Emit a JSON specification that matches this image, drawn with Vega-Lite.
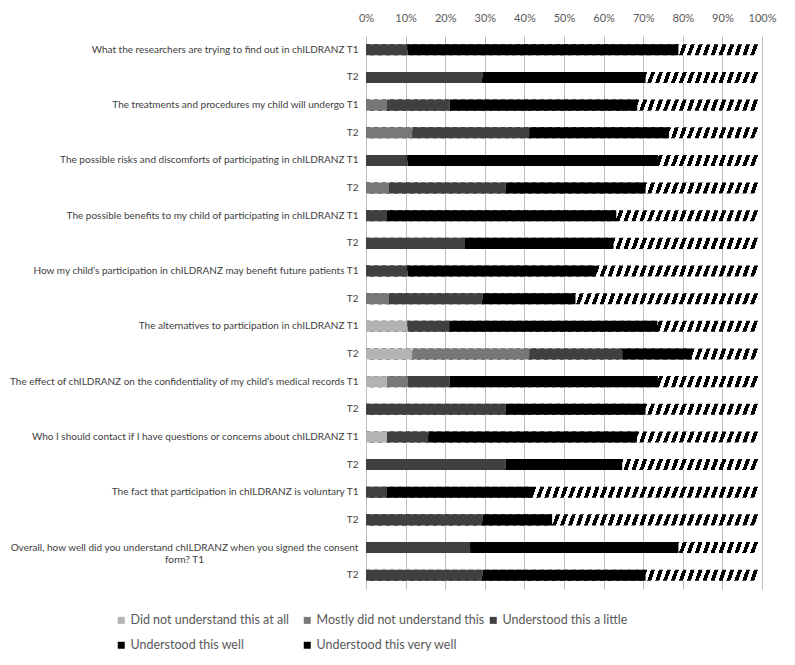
{
  "$schema": "https://vega.github.io/schema/vega-lite/v6.json",
  "width": 396,
  "height": 553,
  "autosize": "none",
  "padding": {"left": 366, "top": 36, "right": 33, "bottom": 76},
  "background": "white",
  "config": {
    "font": "Lato",
    "view": {"stroke": null},
    "axisX": {"labelOverlap": false, "labelFlush": false, "grid": true, "gridColor": "#bdbdbd", "gridOpacity": 1}
  },
  "data": {"values": [
    {"row": "What the researchers are trying to find out in chILDRANZ T1", "cat": "Understood this a little", "pct": 10.5},
    {"row": "What the researchers are trying to find out in chILDRANZ T1", "cat": "Understood this well", "pct": 68.4},
    {"row": "What the researchers are trying to find out in chILDRANZ T1", "cat": "Understood this very well", "pct": 21.1},
    {"row": "What the researchers are trying to find out in chILDRANZ T2", "cat": "Understood this a little", "pct": 29.4},
    {"row": "What the researchers are trying to find out in chILDRANZ T2", "cat": "Understood this well", "pct": 41.2},
    {"row": "What the researchers are trying to find out in chILDRANZ T2", "cat": "Understood this very well", "pct": 29.4},
    {"row": "The treatments and procedures my child will undergo T1", "cat": "Mostly did not understand this", "pct": 5.3},
    {"row": "The treatments and procedures my child will undergo T1", "cat": "Understood this a little", "pct": 15.8},
    {"row": "The treatments and procedures my child will undergo T1", "cat": "Understood this well", "pct": 47.4},
    {"row": "The treatments and procedures my child will undergo T1", "cat": "Understood this very well", "pct": 31.6},
    {"row": "The treatments and procedures my child will undergo T2", "cat": "Mostly did not understand this", "pct": 11.8},
    {"row": "The treatments and procedures my child will undergo T2", "cat": "Understood this a little", "pct": 29.4},
    {"row": "The treatments and procedures my child will undergo T2", "cat": "Understood this well", "pct": 35.3},
    {"row": "The treatments and procedures my child will undergo T2", "cat": "Understood this very well", "pct": 23.5},
    {"row": "The possible risks and discomforts of participating in chILDRANZ T1", "cat": "Understood this a little", "pct": 10.5},
    {"row": "The possible risks and discomforts of participating in chILDRANZ T1", "cat": "Understood this well", "pct": 63.2},
    {"row": "The possible risks and discomforts of participating in chILDRANZ T1", "cat": "Understood this very well", "pct": 26.3},
    {"row": "The possible risks and discomforts of participating in chILDRANZ T2", "cat": "Mostly did not understand this", "pct": 5.9},
    {"row": "The possible risks and discomforts of participating in chILDRANZ T2", "cat": "Understood this a little", "pct": 29.4},
    {"row": "The possible risks and discomforts of participating in chILDRANZ T2", "cat": "Understood this well", "pct": 35.3},
    {"row": "The possible risks and discomforts of participating in chILDRANZ T2", "cat": "Understood this very well", "pct": 29.4},
    {"row": "The possible benefits to my child of participating in chILDRANZ T1", "cat": "Understood this a little", "pct": 5.3},
    {"row": "The possible benefits to my child of participating in chILDRANZ T1", "cat": "Understood this well", "pct": 57.9},
    {"row": "The possible benefits to my child of participating in chILDRANZ T1", "cat": "Understood this very well", "pct": 36.8},
    {"row": "The possible benefits to my child of participating in chILDRANZ T2", "cat": "Understood this a little", "pct": 25.0},
    {"row": "The possible benefits to my child of participating in chILDRANZ T2", "cat": "Understood this well", "pct": 37.5},
    {"row": "The possible benefits to my child of participating in chILDRANZ T2", "cat": "Understood this very well", "pct": 37.5},
    {"row": "How my child’s participation in chILDRANZ may benefit future patients T1", "cat": "Understood this a little", "pct": 10.5},
    {"row": "How my child’s participation in chILDRANZ may benefit future patients T1", "cat": "Understood this well", "pct": 47.4},
    {"row": "How my child’s participation in chILDRANZ may benefit future patients T1", "cat": "Understood this very well", "pct": 42.1},
    {"row": "How my child’s participation in chILDRANZ may benefit future patients T2", "cat": "Mostly did not understand this", "pct": 5.9},
    {"row": "How my child’s participation in chILDRANZ may benefit future patients T2", "cat": "Understood this a little", "pct": 23.5},
    {"row": "How my child’s participation in chILDRANZ may benefit future patients T2", "cat": "Understood this well", "pct": 23.5},
    {"row": "How my child’s participation in chILDRANZ may benefit future patients T2", "cat": "Understood this very well", "pct": 47.1},
    {"row": "The alternatives to participation in chILDRANZ T1", "cat": "Did not understand this at all", "pct": 10.5},
    {"row": "The alternatives to participation in chILDRANZ T1", "cat": "Understood this a little", "pct": 10.5},
    {"row": "The alternatives to participation in chILDRANZ T1", "cat": "Understood this well", "pct": 52.6},
    {"row": "The alternatives to participation in chILDRANZ T1", "cat": "Understood this very well", "pct": 26.3},
    {"row": "The alternatives to participation in chILDRANZ T2", "cat": "Did not understand this at all", "pct": 11.8},
    {"row": "The alternatives to participation in chILDRANZ T2", "cat": "Mostly did not understand this", "pct": 29.4},
    {"row": "The alternatives to participation in chILDRANZ T2", "cat": "Understood this a little", "pct": 23.5},
    {"row": "The alternatives to participation in chILDRANZ T2", "cat": "Understood this well", "pct": 17.6},
    {"row": "The alternatives to participation in chILDRANZ T2", "cat": "Understood this very well", "pct": 17.6},
    {"row": "The effect of chILDRANZ on the confidentiality of my child’s medical records T1", "cat": "Did not understand this at all", "pct": 5.3},
    {"row": "The effect of chILDRANZ on the confidentiality of my child’s medical records T1", "cat": "Mostly did not understand this", "pct": 5.3},
    {"row": "The effect of chILDRANZ on the confidentiality of my child’s medical records T1", "cat": "Understood this a little", "pct": 10.5},
    {"row": "The effect of chILDRANZ on the confidentiality of my child’s medical records T1", "cat": "Understood this well", "pct": 52.6},
    {"row": "The effect of chILDRANZ on the confidentiality of my child’s medical records T1", "cat": "Understood this very well", "pct": 26.3},
    {"row": "The effect of chILDRANZ on the confidentiality of my child’s medical records T2", "cat": "Understood this a little", "pct": 35.3},
    {"row": "The effect of chILDRANZ on the confidentiality of my child’s medical records T2", "cat": "Understood this well", "pct": 35.3},
    {"row": "The effect of chILDRANZ on the confidentiality of my child’s medical records T2", "cat": "Understood this very well", "pct": 29.4},
    {"row": "Who I should contact if I have questions or concerns about chILDRANZ T1", "cat": "Did not understand this at all", "pct": 5.3},
    {"row": "Who I should contact if I have questions or concerns about chILDRANZ T1", "cat": "Understood this a little", "pct": 10.5},
    {"row": "Who I should contact if I have questions or concerns about chILDRANZ T1", "cat": "Understood this well", "pct": 52.6},
    {"row": "Who I should contact if I have questions or concerns about chILDRANZ T1", "cat": "Understood this very well", "pct": 31.6},
    {"row": "Who I should contact if I have questions or concerns about chILDRANZ T2", "cat": "Understood this a little", "pct": 35.3},
    {"row": "Who I should contact if I have questions or concerns about chILDRANZ T2", "cat": "Understood this well", "pct": 29.4},
    {"row": "Who I should contact if I have questions or concerns about chILDRANZ T2", "cat": "Understood this very well", "pct": 35.3},
    {"row": "The fact that participation in chILDRANZ is voluntary T1", "cat": "Understood this a little", "pct": 5.3},
    {"row": "The fact that participation in chILDRANZ is voluntary T1", "cat": "Understood this well", "pct": 36.8},
    {"row": "The fact that participation in chILDRANZ is voluntary T1", "cat": "Understood this very well", "pct": 57.9},
    {"row": "The fact that participation in chILDRANZ is voluntary T2", "cat": "Understood this a little", "pct": 29.4},
    {"row": "The fact that participation in chILDRANZ is voluntary T2", "cat": "Understood this well", "pct": 17.6},
    {"row": "The fact that participation in chILDRANZ is voluntary T2", "cat": "Understood this very well", "pct": 52.9},
    {"row": "Overall, how well did you understand chILDRANZ when you signed the consent|form? T1", "cat": "Understood this a little", "pct": 26.3},
    {"row": "Overall, how well did you understand chILDRANZ when you signed the consent|form? T1", "cat": "Understood this well", "pct": 52.6},
    {"row": "Overall, how well did you understand chILDRANZ when you signed the consent|form? T1", "cat": "Understood this very well", "pct": 21.1},
    {"row": "Overall, how well did you understand chILDRANZ when you signed the consent form? T2", "cat": "Understood this a little", "pct": 29.4},
    {"row": "Overall, how well did you understand chILDRANZ when you signed the consent form? T2", "cat": "Understood this well", "pct": 41.2},
    {"row": "Overall, how well did you understand chILDRANZ when you signed the consent form? T2", "cat": "Understood this very well", "pct": 29.4}
  ]},
  "encoding": {
    "y": {
      "field": "row", "type": "nominal", "sort": null,
      "scale": {"paddingInner": 0.6, "paddingOuter": 0.3},
      "axis": {
        "title": null, "ticks": false, "domain": true, "domainColor": "#bfbfbf", "grid": false,
        "labelFont": "Lato", "labelFontSize": 10, "labelColor": "#404040", "labelLimit": 400,
        "labelOverlap": false, "labelLineHeight": 12,
        "labelExpr": "indexof(datum.value, ' T2') >= 0 ? 'T2' : split(datum.value, '|')",
        "labelAlign": {"condition": {"test": "indexof(datum.value, '|') >= 0", "value": "center"}, "value": "right"},
        "labelPadding": {"condition": {"test": "indexof(datum.value, '|') >= 0", "value": 182}, "value": 8}
      }
    }
  },
  "layer": [
    {
      "transform": [{"filter": "datum.cat == 'Understood this very well'"}],
      "mark": {"type": "bar", "fill": {"gradient": "linear", "x1": 0, "y1": 0, "x2": 1, "y2": 0.01, "stops": [
        {"offset":0,"color":"#000"},{"offset":0.01,"color":"#000"},{"offset":0.01,"color":"#fff"},{"offset":0.02,"color":"#fff"},
        {"offset":0.02,"color":"#000"},{"offset":0.03,"color":"#000"},{"offset":0.03,"color":"#fff"},{"offset":0.04,"color":"#fff"},
        {"offset":0.04,"color":"#000"},{"offset":0.05,"color":"#000"},{"offset":0.05,"color":"#fff"},{"offset":0.06,"color":"#fff"},
        {"offset":0.06,"color":"#000"},{"offset":0.07,"color":"#000"},{"offset":0.07,"color":"#fff"},{"offset":0.08,"color":"#fff"},
        {"offset":0.08,"color":"#000"},{"offset":0.09,"color":"#000"},{"offset":0.09,"color":"#fff"},{"offset":0.10,"color":"#fff"},
        {"offset":0.10,"color":"#000"},{"offset":0.11,"color":"#000"},{"offset":0.11,"color":"#fff"},{"offset":0.12,"color":"#fff"},
        {"offset":0.12,"color":"#000"},{"offset":0.13,"color":"#000"},{"offset":0.13,"color":"#fff"},{"offset":0.14,"color":"#fff"},
        {"offset":0.14,"color":"#000"},{"offset":0.15,"color":"#000"},{"offset":0.15,"color":"#fff"},{"offset":0.16,"color":"#fff"},
        {"offset":0.16,"color":"#000"},{"offset":0.17,"color":"#000"},{"offset":0.17,"color":"#fff"},{"offset":0.18,"color":"#fff"},
        {"offset":0.18,"color":"#000"},{"offset":0.19,"color":"#000"},{"offset":0.19,"color":"#fff"},{"offset":0.20,"color":"#fff"},
        {"offset":0.20,"color":"#000"},{"offset":0.21,"color":"#000"},{"offset":0.21,"color":"#fff"},{"offset":0.22,"color":"#fff"},
        {"offset":0.22,"color":"#000"},{"offset":0.23,"color":"#000"},{"offset":0.23,"color":"#fff"},{"offset":0.24,"color":"#fff"},
        {"offset":0.24,"color":"#000"},{"offset":0.25,"color":"#000"},{"offset":0.25,"color":"#fff"},{"offset":0.26,"color":"#fff"},
        {"offset":0.26,"color":"#000"},{"offset":0.27,"color":"#000"},{"offset":0.27,"color":"#fff"},{"offset":0.28,"color":"#fff"},
        {"offset":0.28,"color":"#000"},{"offset":0.29,"color":"#000"},{"offset":0.29,"color":"#fff"},{"offset":0.30,"color":"#fff"},
        {"offset":0.30,"color":"#000"},{"offset":0.31,"color":"#000"},{"offset":0.31,"color":"#fff"},{"offset":0.32,"color":"#fff"},
        {"offset":0.32,"color":"#000"},{"offset":0.33,"color":"#000"},{"offset":0.33,"color":"#fff"},{"offset":0.34,"color":"#fff"},
        {"offset":0.34,"color":"#000"},{"offset":0.35,"color":"#000"},{"offset":0.35,"color":"#fff"},{"offset":0.36,"color":"#fff"},
        {"offset":0.36,"color":"#000"},{"offset":0.37,"color":"#000"},{"offset":0.37,"color":"#fff"},{"offset":0.38,"color":"#fff"},
        {"offset":0.38,"color":"#000"},{"offset":0.39,"color":"#000"},{"offset":0.39,"color":"#fff"},{"offset":0.40,"color":"#fff"},
        {"offset":0.40,"color":"#000"},{"offset":0.41,"color":"#000"},{"offset":0.41,"color":"#fff"},{"offset":0.42,"color":"#fff"},
        {"offset":0.42,"color":"#000"},{"offset":0.43,"color":"#000"},{"offset":0.43,"color":"#fff"},{"offset":0.44,"color":"#fff"},
        {"offset":0.44,"color":"#000"},{"offset":0.45,"color":"#000"},{"offset":0.45,"color":"#fff"},{"offset":0.46,"color":"#fff"},
        {"offset":0.46,"color":"#000"},{"offset":0.47,"color":"#000"},{"offset":0.47,"color":"#fff"},{"offset":0.48,"color":"#fff"},
        {"offset":0.48,"color":"#000"},{"offset":0.49,"color":"#000"},{"offset":0.49,"color":"#fff"},{"offset":0.50,"color":"#fff"},
        {"offset":0.50,"color":"#000"},{"offset":0.51,"color":"#000"},{"offset":0.51,"color":"#fff"},{"offset":0.52,"color":"#fff"},
        {"offset":0.52,"color":"#000"},{"offset":0.53,"color":"#000"},{"offset":0.53,"color":"#fff"},{"offset":0.54,"color":"#fff"},
        {"offset":0.54,"color":"#000"},{"offset":0.55,"color":"#000"},{"offset":0.55,"color":"#fff"},{"offset":0.56,"color":"#fff"},
        {"offset":0.56,"color":"#000"},{"offset":0.57,"color":"#000"},{"offset":0.57,"color":"#fff"},{"offset":0.58,"color":"#fff"},
        {"offset":0.58,"color":"#000"},{"offset":0.59,"color":"#000"},{"offset":0.59,"color":"#fff"},{"offset":0.60,"color":"#fff"},
        {"offset":0.60,"color":"#000"},{"offset":0.61,"color":"#000"},{"offset":0.61,"color":"#fff"},{"offset":0.62,"color":"#fff"},
        {"offset":0.62,"color":"#000"},{"offset":0.63,"color":"#000"},{"offset":0.63,"color":"#fff"},{"offset":0.64,"color":"#fff"},
        {"offset":0.64,"color":"#000"},{"offset":0.65,"color":"#000"},{"offset":0.65,"color":"#fff"},{"offset":0.66,"color":"#fff"},
        {"offset":0.66,"color":"#000"},{"offset":0.67,"color":"#000"},{"offset":0.67,"color":"#fff"},{"offset":0.68,"color":"#fff"},
        {"offset":0.68,"color":"#000"},{"offset":0.69,"color":"#000"},{"offset":0.69,"color":"#fff"},{"offset":0.70,"color":"#fff"},
        {"offset":0.70,"color":"#000"},{"offset":0.71,"color":"#000"},{"offset":0.71,"color":"#fff"},{"offset":0.72,"color":"#fff"},
        {"offset":0.72,"color":"#000"},{"offset":0.73,"color":"#000"},{"offset":0.73,"color":"#fff"},{"offset":0.74,"color":"#fff"},
        {"offset":0.74,"color":"#000"},{"offset":0.75,"color":"#000"},{"offset":0.75,"color":"#fff"},{"offset":0.76,"color":"#fff"},
        {"offset":0.76,"color":"#000"},{"offset":0.77,"color":"#000"},{"offset":0.77,"color":"#fff"},{"offset":0.78,"color":"#fff"},
        {"offset":0.78,"color":"#000"},{"offset":0.79,"color":"#000"},{"offset":0.79,"color":"#fff"},{"offset":0.80,"color":"#fff"},
        {"offset":0.80,"color":"#000"},{"offset":0.81,"color":"#000"},{"offset":0.81,"color":"#fff"},{"offset":0.82,"color":"#fff"},
        {"offset":0.82,"color":"#000"},{"offset":0.83,"color":"#000"},{"offset":0.83,"color":"#fff"},{"offset":0.84,"color":"#fff"},
        {"offset":0.84,"color":"#000"},{"offset":0.85,"color":"#000"},{"offset":0.85,"color":"#fff"},{"offset":0.86,"color":"#fff"},
        {"offset":0.86,"color":"#000"},{"offset":0.87,"color":"#000"},{"offset":0.87,"color":"#fff"},{"offset":0.88,"color":"#fff"},
        {"offset":0.88,"color":"#000"},{"offset":0.89,"color":"#000"},{"offset":0.89,"color":"#fff"},{"offset":0.90,"color":"#fff"},
        {"offset":0.90,"color":"#000"},{"offset":0.91,"color":"#000"},{"offset":0.91,"color":"#fff"},{"offset":0.92,"color":"#fff"},
        {"offset":0.92,"color":"#000"},{"offset":0.93,"color":"#000"},{"offset":0.93,"color":"#fff"},{"offset":0.94,"color":"#fff"},
        {"offset":0.94,"color":"#000"},{"offset":0.95,"color":"#000"},{"offset":0.95,"color":"#fff"},{"offset":0.96,"color":"#fff"},
        {"offset":0.96,"color":"#000"},{"offset":0.97,"color":"#000"},{"offset":0.97,"color":"#fff"},{"offset":0.98,"color":"#fff"},
        {"offset":0.98,"color":"#000"},{"offset":0.99,"color":"#000"},{"offset":0.99,"color":"#fff"},{"offset":1,"color":"#fff"}
      ]}},
      "encoding": {
        "x": {
          "datum": 0, "type": "quantitative",
          "scale": {"domain": [0, 100], "nice": false},
          "axis": {
            "orient": "top", "title": null, "values": [0, 10, 20, 30, 40, 50, 60, 70, 80, 90, 100],
            "labelExpr": "datum.value + '%'", "domain": false, "ticks": false,
            "labelOverlap": false, "labelFlush": false,
            "grid": true, "gridColor": "#bdbdbd", "gridOpacity": 1, "gridWidth": 1,
            "labelFont": "Lato", "labelFontSize": 11, "labelColor": "#595959", "labelPadding": 13
          }
        },
        "x2": {"datum": 100}
      }
    },
    {
      "transform": [{"filter": "datum.cat != 'Understood this very well'"}],
      "mark": {"type": "bar"},
      "encoding": {
        "x": {
          "field": "pct", "type": "quantitative", "stack": "zero",
          "scale": {"domain": [0, 100], "nice": false},
          "axis": {
            "orient": "top", "title": null, "values": [0, 10, 20, 30, 40, 50, 60, 70, 80, 90, 100],
            "labelExpr": "datum.value + '%'", "domain": false, "ticks": false,
            "labelOverlap": false, "labelFlush": false,
            "grid": true, "gridColor": "#bdbdbd", "gridOpacity": 1, "gridWidth": 1,
            "labelFont": "Lato", "labelFontSize": 11, "labelColor": "#595959", "labelPadding": 13
          }
        },
        "color": {
          "field": "cat", "type": "nominal",
          "scale": {
            "domain": ["Did not understand this at all", "Mostly did not understand this", "Understood this a little", "Understood this well", "Understood this very well"],
            "range": ["#b3b3b3", "#787878", "#404040", "#000000", "#000000"]
          },
          "legend": {
            "title": null, "orient": "none", "legendX": -251, "legendY": 578,
            "direction": "horizontal", "columns": 3, "gridAlign": "all",
            "columnPadding": 2, "rowPadding": 12, "padding": 0,
            "symbolType": "square", "symbolSize": 49, "symbolStrokeWidth": 0, "symbolOpacity": 1,
            "labelFont": "Lato", "labelFontSize": 12.5, "labelColor": "#595959", "labelOffset": 3,
            "labelLimit": 300
          }
        },
        "order": {"field": "cat", "sort": "ascending"}
      }
    }
  ]
}
